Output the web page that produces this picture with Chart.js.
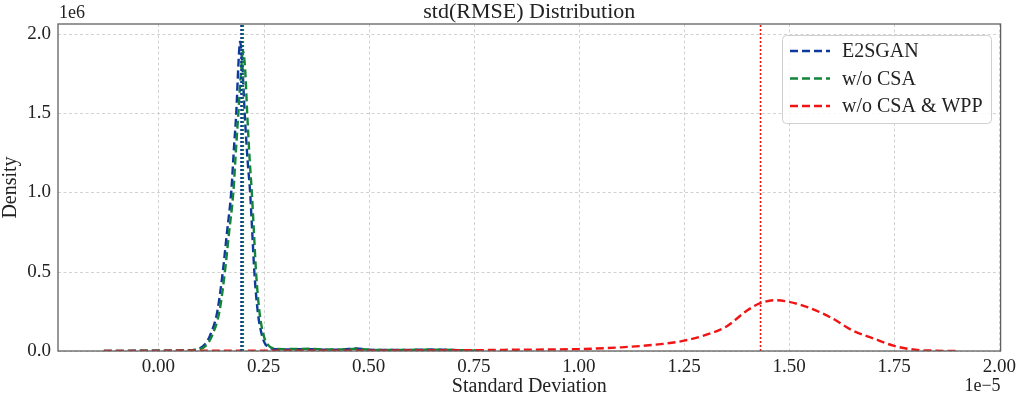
<!DOCTYPE html>
<html>
<head>
<meta charset="utf-8">
<script src="https://cdn.jsdelivr.net/npm/chart.js@4"></script>
<style>
  html, body { margin: 0; padding: 0; background: #fff; }
  canvas { display: block; }
</style>
</head>
<body>
<canvas id="kde" width="1021" height="399"></canvas>
<script>
// x values in units of 1e-5, densities in units of 1e6
const xTicks = [0, 0.25, 0.5, 0.75, 1.0, 1.25, 1.5, 1.75, 2.0]
const yTicks = [0, 0.5, 1.0, 1.5, 2.0]

const seriesNames = ['E2SGAN', 'w/o CSA', 'w/o CSA & WPP']
const seriesColors = ['#0d3a9c', '#13843a', '#f01414']

const e2sganX = [-0.13, 0.0, 0.06, 0.09, 0.11, 0.123, 0.14, 0.153, 0.163, 0.173, 0.18, 0.185, 0.19, 0.194, 0.199, 0.205, 0.212, 0.218, 0.223, 0.228, 0.236, 0.246, 0.255, 0.27, 0.3, 0.36, 0.4, 0.44, 0.47, 0.5, 0.58, 0.65, 0.72, 0.76]
const e2sganY = [0, 0.002, 0.003, 0.01, 0.04, 0.1, 0.25, 0.5, 0.75, 1.0, 1.3, 1.5, 1.8, 1.95, 1.82, 1.5, 1.2, 1.0, 0.75, 0.5, 0.25, 0.1, 0.04, 0.015, 0.01, 0.012, 0.008, 0.01, 0.016, 0.008, 0.006, 0.009, 0.005, 0.002]

const woCsaX = [-0.13, 0.0, 0.06, 0.095, 0.115, 0.128, 0.145, 0.158, 0.168, 0.178, 0.185, 0.19, 0.196, 0.201, 0.206, 0.211, 0.217, 0.222, 0.227, 0.232, 0.24, 0.25, 0.26, 0.275, 0.3, 0.36, 0.4, 0.44, 0.47, 0.5, 0.58, 0.65, 0.72, 0.76]
const woCsaY = [0, 0.002, 0.003, 0.01, 0.04, 0.1, 0.25, 0.5, 0.75, 1.0, 1.3, 1.5, 1.75, 1.89, 1.78, 1.5, 1.2, 1.0, 0.75, 0.5, 0.25, 0.1, 0.04, 0.015, 0.012, 0.014, 0.009, 0.01, 0.014, 0.008, 0.006, 0.009, 0.005, 0.002]

const woCsaWppX = [-0.13, 0.0, 0.2, 0.4, 0.6, 0.75, 0.85, 0.95, 1.0, 1.1, 1.2, 1.25, 1.3, 1.35, 1.4, 1.43, 1.467, 1.5, 1.55, 1.6, 1.65, 1.7, 1.75, 1.8, 1.85, 1.9]
const woCsaWppY = [0, 0.001, 0.002, 0.002, 0.003, 0.005, 0.008, 0.01, 0.012, 0.023, 0.045, 0.065, 0.1, 0.153, 0.255, 0.3, 0.32, 0.31, 0.27, 0.21, 0.13, 0.08, 0.032, 0.008, 0.002, 0.0]

// dotted vertical markers, one per series
const markerX = [0.197, 0.201, 1.432]

const xMin = -0.239
const xMax = 2.003
const yMin = 0
const yMax = 2.062

const serif = '"Liberation Serif", "Times New Roman", serif'

function toPoints(xs, ys){
  return xs.map((x, i) => ({x: x, y: ys[i]}))
}

const curves = [[e2sganX, e2sganY], [woCsaX, woCsaY], [woCsaWppX, woCsaWppY]]

const datasets = []
curves.forEach((c, i) => {
  datasets.push({
    label: seriesNames[i],
    data: toPoints(c[0], c[1]),
    borderColor: seriesColors[i],
    borderWidth: 2.4,
    borderDash: [8, 4],
    pointRadius: 0,
    fill: false,
    cubicInterpolationMode: 'monotone',
    order: i == 2 ? 1 : 3 - i
  })
})
markerX.forEach((x, i) => {
  datasets.push({
    label: seriesNames[i] + ' marker',
    data: [{x: x, y: yMin}, {x: x, y: yMax}],
    borderColor: seriesColors[i],
    borderWidth: i == 2 ? 1.6 : 2.2,
    borderDash: [2, 2],
    pointRadius: 0,
    fill: false,
    order: 0
  })
})

const decor = {
  id: 'decor',
  beforeDraw(chart){
    const ctx = chart.ctx
    ctx.save()
    ctx.fillStyle = '#fff'
    ctx.fillRect(0, 0, chart.width, chart.height)
    ctx.restore()
  },
  beforeDatasetsDraw(chart){
    // dashed grid
    const ctx = chart.ctx
    const a = chart.chartArea
    const sx = chart.scales.x, sy = chart.scales.y
    ctx.save()
    ctx.strokeStyle = '#d2d2d2'
    ctx.lineWidth = 1
    ctx.setLineDash([3, 2.5])
    xTicks.forEach(v => {
      const px = Math.round(sx.getPixelForValue(v)) + 0.5
      ctx.beginPath(); ctx.moveTo(px, a.top); ctx.lineTo(px, a.bottom); ctx.stroke()
    })
    yTicks.forEach(v => {
      const py = Math.round(sy.getPixelForValue(v)) + 0.5
      ctx.beginPath(); ctx.moveTo(a.left, py); ctx.lineTo(a.right, py); ctx.stroke()
    })
    ctx.restore()
  },
  afterDraw(chart){
    const ctx = chart.ctx
    const a = chart.chartArea
    ctx.save()
    // frame
    ctx.strokeStyle = '#606060'
    ctx.lineWidth = 1.3
    ctx.strokeRect(a.left, a.top, a.right - a.left, a.bottom - a.top)

    ctx.fillStyle = '#222'
    ctx.textBaseline = 'middle'
    // title
    ctx.font = '22px ' + serif
    ctx.textAlign = 'center'
    ctx.fillText('std(RMSE) Distribution', (a.left + a.right) / 2, 12)
    // offsets
    ctx.font = '18px ' + serif
    ctx.textAlign = 'left'
    ctx.fillText('1e6', a.left + 1, 13)
    ctx.textAlign = 'right'
    ctx.fillText('1e\u22125', a.right, 386)
    // axis titles
    ctx.font = '20px ' + serif
    ctx.textAlign = 'center'
    ctx.fillText('Standard Deviation', (a.left + a.right) / 2, 387)
    ctx.save()
    ctx.translate(11, (a.top + a.bottom) / 2)
    ctx.rotate(-Math.PI / 2)
    ctx.fillText('Density', 0, 0)
    ctx.restore()

    // legend
    const bx = 782, by = 35, bw = 209, bh = 88
    ctx.fillStyle = 'rgba(255,255,255,0.85)'
    ctx.strokeStyle = '#d0d0d0'
    ctx.lineWidth = 1
    ctx.beginPath()
    ctx.roundRect(bx + 0.5, by + 0.5, bw, bh, 4)
    ctx.fill()
    ctx.stroke()
    ctx.font = '20px ' + serif
    ctx.textAlign = 'left'
    seriesNames.forEach((name, i) => {
      const yy = by + 16 + i * 27.5
      ctx.strokeStyle = seriesColors[i]
      ctx.lineWidth = 2.4
      ctx.setLineDash([8, 4])
      ctx.beginPath()
      ctx.moveTo(bx + 8, yy)
      ctx.lineTo(bx + 48, yy)
      ctx.stroke()
      ctx.setLineDash([])
      ctx.fillStyle = '#222'
      ctx.fillText(name, bx + 60, yy + 1)
    })
    ctx.restore()
  }
}

const chartKde = new Chart(document.getElementById('kde').getContext('2d'), {
  type: 'line',
  data: { datasets: datasets },
  plugins: [decor],
  options: {
    responsive: false,
    animation: false,
    layout: { padding: { top: 24, right: 19, left: 0, bottom: 0 } },
    plugins: {
      legend: { display: false },
      tooltip: { enabled: false },
      title: { display: false }
    },
    scales: {
      x: {
        type: 'linear',
        min: xMin,
        max: xMax,
        afterBuildTicks: s => { s.ticks = xTicks.map(v => ({value: v})) },
        afterFit: s => { s.height = 48 },
        grid: { display: false, drawTicks: false, tickLength: 0 },
        border: { display: false },
        ticks: {
          color: '#222',
          font: { family: serif, size: 19 },
          padding: 5,
          maxRotation: 0,
          callback: v => Number(v).toFixed(2)
        }
      },
      y: {
        type: 'linear',
        min: yMin,
        max: yMax,
        afterBuildTicks: s => { s.ticks = yTicks.map(v => ({value: v})) },
        afterFit: s => { s.width = 58 },
        grid: { display: false, drawTicks: false, tickLength: 0 },
        border: { display: false },
        ticks: {
          color: '#222',
          font: { family: serif, size: 19 },
          padding: 7,
          callback: v => Number(v).toFixed(1)
        }
      }
    }
  }
})
</script>
</body>
</html>
